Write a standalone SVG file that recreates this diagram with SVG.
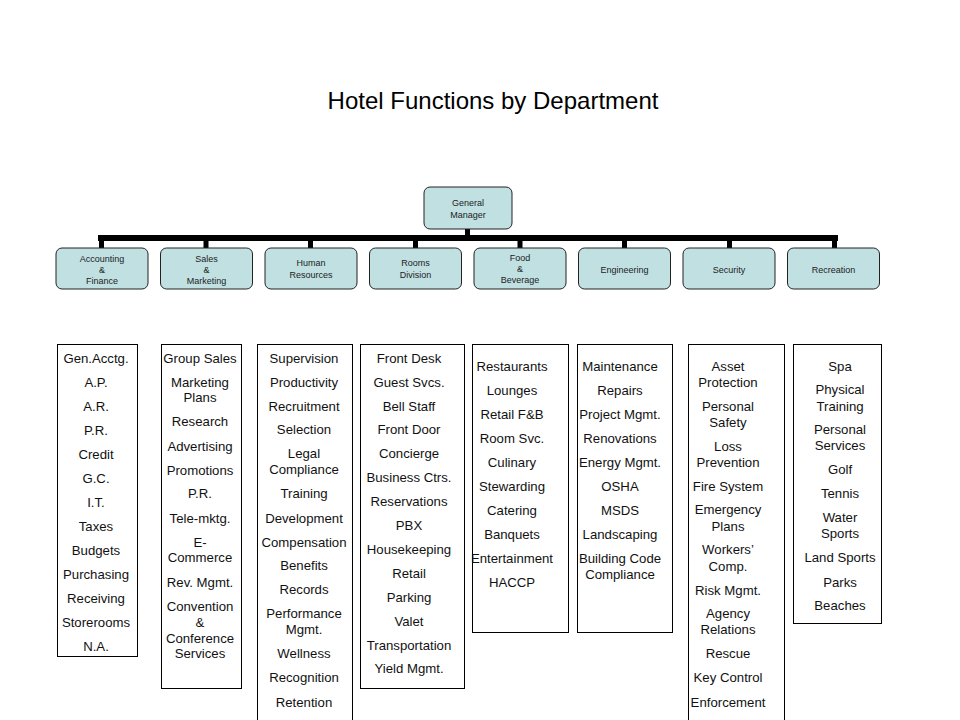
<svg xmlns="http://www.w3.org/2000/svg" width="960" height="720" viewBox="0 0 960 720">
<style>
.dept{fill:#c0e0e2;stroke:#222;stroke-width:1}
.dt{font-family:"Liberation Sans",Arial,sans-serif;font-size:9px;fill:#222;text-anchor:middle}
.col{fill:#fff;stroke:#000;stroke-width:1}
.ct{font-family:"Liberation Sans",Arial,sans-serif;font-size:13.2px;fill:#111;text-anchor:middle}
.title{font-family:"Liberation Sans",Arial,sans-serif;font-size:24px;fill:#000;text-anchor:middle}
.conn{fill:#000}
</style>
<rect width="960" height="720" fill="#fff"/>
<text class="title" x="493" y="108.5">Hotel Functions by Department</text>

<g id="connectors">
<rect class="conn" x="465" y="229" width="5" height="8"/>
<rect class="conn" x="98" y="235" width="740" height="6"/>
<rect class="conn" x="99" y="240" width="5" height="8"/>
<rect class="conn" x="203.5" y="240" width="5" height="8"/>
<rect class="conn" x="308" y="240" width="5" height="8"/>
<rect class="conn" x="413" y="240" width="5" height="8"/>
<rect class="conn" x="517.5" y="240" width="5" height="8"/>
<rect class="conn" x="622" y="240" width="5" height="8"/>
<rect class="conn" x="727" y="240" width="5" height="8"/>
<rect class="conn" x="832" y="240" width="5" height="8"/>
</g>

<g id="gm">
<rect class="dept" x="424" y="187" width="88" height="42" rx="6"/>
<text class="dt" x="468" y="206">General</text>
<text class="dt" x="468" y="218">Manager</text>
</g>

<g id="d-accounting">
<rect class="dept" x="56" y="248" width="92" height="41" rx="6"/>
<text class="dt" x="102" y="262">Accounting</text>
<text class="dt" x="102" y="273">&amp;</text>
<text class="dt" x="102" y="284">Finance</text>
</g>
<g id="d-sales">
<rect class="dept" x="160.5" y="248" width="92" height="41" rx="6"/>
<text class="dt" x="206.5" y="262">Sales</text>
<text class="dt" x="206.5" y="273">&amp;</text>
<text class="dt" x="206.5" y="284">Marketing</text>
</g>
<g id="d-hr">
<rect class="dept" x="265" y="248" width="92" height="41" rx="6"/>
<text class="dt" x="311" y="266">Human</text>
<text class="dt" x="311" y="278">Resources</text>
</g>
<g id="d-rooms">
<rect class="dept" x="369.5" y="248" width="92" height="41" rx="6"/>
<text class="dt" x="415.5" y="266">Rooms</text>
<text class="dt" x="415.5" y="278">Division</text>
</g>
<g id="d-fb">
<rect class="dept" x="474" y="248" width="92" height="41" rx="6"/>
<text class="dt" x="520" y="261">Food</text>
<text class="dt" x="520" y="272">&amp;</text>
<text class="dt" x="520" y="283">Beverage</text>
</g>
<g id="d-eng">
<rect class="dept" x="578.5" y="248" width="92" height="41" rx="6"/>
<text class="dt" x="624.5" y="273">Engineering</text>
</g>
<g id="d-sec">
<rect class="dept" x="683" y="248" width="92" height="41" rx="6"/>
<text class="dt" x="729" y="273">Security</text>
</g>
<g id="d-rec">
<rect class="dept" x="787.5" y="248" width="92" height="41" rx="6"/>
<text class="dt" x="833.5" y="273">Recreation</text>
</g>

<g id="c-accounting">
<rect class="col" x="57.5" y="344.5" width="80" height="312"/>
<text class="ct" x="96" y="362.5">Gen.Acctg.</text>
<text class="ct" x="96" y="386.5">A.P.</text>
<text class="ct" x="96" y="410.5">A.R.</text>
<text class="ct" x="96" y="434.5">P.R.</text>
<text class="ct" x="96" y="458.5">Credit</text>
<text class="ct" x="96" y="482.5">G.C.</text>
<text class="ct" x="96" y="506.5">I.T.</text>
<text class="ct" x="96" y="530.5">Taxes</text>
<text class="ct" x="96" y="554.5">Budgets</text>
<text class="ct" x="96" y="578.5">Purchasing</text>
<text class="ct" x="96" y="602.5">Receiving</text>
<text class="ct" x="96" y="626.5">Storerooms</text>
<text class="ct" x="96" y="650.5">N.A.</text>
</g>

<g id="c-sales">
<rect class="col" x="161.5" y="344.5" width="80" height="344"/>
<text class="ct" x="200" y="362.5">Group Sales</text>
<text class="ct" x="200" y="386.5">Marketing</text>
<text class="ct" x="200" y="401.5">Plans</text>
<text class="ct" x="200" y="425.5">Research</text>
<text class="ct" x="200" y="450.5">Advertising</text>
<text class="ct" x="200" y="474.5">Promotions</text>
<text class="ct" x="200" y="497.5">P.R.</text>
<text class="ct" x="200" y="522.5">Tele-mktg.</text>
<text class="ct" x="200" y="546.5">E-</text>
<text class="ct" x="200" y="561.5">Commerce</text>
<text class="ct" x="200" y="586.5">Rev. Mgmt.</text>
<text class="ct" x="200" y="610.5">Convention</text>
<text class="ct" x="200" y="626.5">&amp;</text>
<text class="ct" x="200" y="642.5">Conference</text>
<text class="ct" x="200" y="657.5">Services</text>
</g>

<g id="c-hr">
<rect class="col" x="257.5" y="344.5" width="95" height="400"/>
<text class="ct" x="304" y="362.5">Supervision</text>
<text class="ct" x="304" y="386.5">Productivity</text>
<text class="ct" x="304" y="410.5">Recruitment</text>
<text class="ct" x="304" y="433.5">Selection</text>
<text class="ct" x="304" y="457.5">Legal</text>
<text class="ct" x="304" y="473.5">Compliance</text>
<text class="ct" x="304" y="497.5">Training</text>
<text class="ct" x="304" y="522.5">Development</text>
<text class="ct" x="304" y="546.5">Compensation</text>
<text class="ct" x="304" y="569.5">Benefits</text>
<text class="ct" x="304" y="593.5">Records</text>
<text class="ct" x="304" y="617.5">Performance</text>
<text class="ct" x="304" y="633.5">Mgmt.</text>
<text class="ct" x="304" y="657.5">Wellness</text>
<text class="ct" x="304" y="681.5">Recognition</text>
<text class="ct" x="304" y="706.5">Retention</text>
</g>

<g id="c-rooms">
<rect class="col" x="360.5" y="344.5" width="104" height="344"/>
<text class="ct" x="409" y="362.5">Front Desk</text>
<text class="ct" x="409" y="386.5">Guest Svcs.</text>
<text class="ct" x="409" y="410.5">Bell Staff</text>
<text class="ct" x="409" y="433.5">Front Door</text>
<text class="ct" x="409" y="457.5">Concierge</text>
<text class="ct" x="409" y="481.5">Business Ctrs.</text>
<text class="ct" x="409" y="505.5">Reservations</text>
<text class="ct" x="409" y="529.5">PBX</text>
<text class="ct" x="409" y="553.5">Housekeeping</text>
<text class="ct" x="409" y="577.5">Retail</text>
<text class="ct" x="409" y="601.5">Parking</text>
<text class="ct" x="409" y="625.5">Valet</text>
<text class="ct" x="409" y="649.5">Transportation</text>
<text class="ct" x="409" y="672.5">Yield Mgmt.</text>
</g>

<g id="c-fb">
<rect class="col" x="472.5" y="344.5" width="96" height="288"/>
<text class="ct" x="512" y="370.5">Restaurants</text>
<text class="ct" x="512" y="394.5">Lounges</text>
<text class="ct" x="512" y="418.5">Retail F&amp;B</text>
<text class="ct" x="512" y="442.5">Room Svc.</text>
<text class="ct" x="512" y="466.5">Culinary</text>
<text class="ct" x="512" y="490.5">Stewarding</text>
<text class="ct" x="512" y="514.5">Catering</text>
<text class="ct" x="512" y="538.5">Banquets</text>
<text class="ct" x="512" y="562.5">Entertainment</text>
<text class="ct" x="512" y="586.5">HACCP</text>
</g>

<g id="c-eng">
<rect class="col" x="577.5" y="344.5" width="95" height="288"/>
<text class="ct" x="620" y="370.5">Maintenance</text>
<text class="ct" x="620" y="394.5">Repairs</text>
<text class="ct" x="620" y="418.5">Project Mgmt.</text>
<text class="ct" x="620" y="442.5">Renovations</text>
<text class="ct" x="620" y="466.5">Energy Mgmt.</text>
<text class="ct" x="620" y="490.5">OSHA</text>
<text class="ct" x="620" y="514.5">MSDS</text>
<text class="ct" x="620" y="538.5">Landscaping</text>
<text class="ct" x="620" y="562.5">Building Code</text>
<text class="ct" x="620" y="578.5">Compliance</text>
</g>

<g id="c-sec">
<rect class="col" x="688.5" y="344.5" width="96" height="400"/>
<text class="ct" x="728" y="370.5">Asset</text>
<text class="ct" x="728" y="386.5">Protection</text>
<text class="ct" x="728" y="410.5">Personal</text>
<text class="ct" x="728" y="426.5">Safety</text>
<text class="ct" x="728" y="450.5">Loss</text>
<text class="ct" x="728" y="466.5">Prevention</text>
<text class="ct" x="728" y="490.5">Fire System</text>
<text class="ct" x="728" y="513.5">Emergency</text>
<text class="ct" x="728" y="530.5">Plans</text>
<text class="ct" x="728" y="553.5">Workers’</text>
<text class="ct" x="728" y="570.5">Comp.</text>
<text class="ct" x="728" y="594.5">Risk Mgmt.</text>
<text class="ct" x="728" y="617.5">Agency</text>
<text class="ct" x="728" y="633.5">Relations</text>
<text class="ct" x="728" y="657.5">Rescue</text>
<text class="ct" x="728" y="681.5">Key Control</text>
<text class="ct" x="728" y="706.5">Enforcement</text>
</g>

<g id="c-rec">
<rect class="col" x="793.5" y="344.5" width="88" height="279"/>
<text class="ct" x="840" y="370.5">Spa</text>
<text class="ct" x="840" y="393.5">Physical</text>
<text class="ct" x="840" y="410.5">Training</text>
<text class="ct" x="840" y="433.5">Personal</text>
<text class="ct" x="840" y="449.5">Services</text>
<text class="ct" x="840" y="473.5">Golf</text>
<text class="ct" x="840" y="497.5">Tennis</text>
<text class="ct" x="840" y="521.5">Water</text>
<text class="ct" x="840" y="537.5">Sports</text>
<text class="ct" x="840" y="561.5">Land Sports</text>
<text class="ct" x="840" y="586.5">Parks</text>
<text class="ct" x="840" y="609.5">Beaches</text>
</g>
</svg>
